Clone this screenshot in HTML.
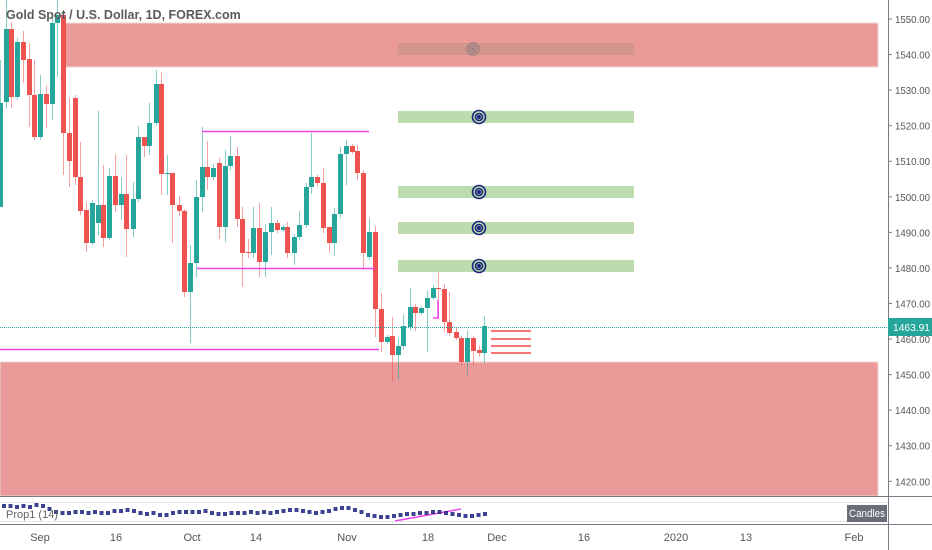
<!DOCTYPE html>
<html><head><meta charset="utf-8"><style>
html,body{margin:0;padding:0;background:#fff;overflow:hidden}
svg{display:block;font-family:"Liberation Sans",sans-serif}
</style></head><body>
<svg id="s" width="932" height="550" viewBox="0 0 932 550" xmlns="http://www.w3.org/2000/svg">
<rect x="0" y="0" width="932" height="550" fill="#fff"/>
<rect x="65" y="23" width="813" height="44" fill="#eb9a9a" stroke="#f3d6d6"/>
<rect x="0" y="362" width="878" height="134" fill="#eb9a9a" stroke="#f3d6d6"/>
<rect x="398" y="43" width="236" height="12" fill="#d4968a"/>
<rect x="398" y="111" width="236" height="12" fill="#bcdcae"/>
<rect x="398" y="186" width="236" height="12" fill="#bcdcae"/>
<rect x="398" y="222" width="236" height="12" fill="#bcdcae"/>
<rect x="398" y="260" width="236" height="12" fill="#bcdcae"/>
<g id="c"></g>
<g stroke="#ee44ee" stroke-width="1.5">
<line x1="202" y1="131.5" x2="369" y2="131.5"/>
<line x1="197" y1="268.5" x2="375" y2="268.5"/>
<line x1="0" y1="349.5" x2="379" y2="349.5"/>
<polyline fill="none" points="433,318 438,318 438,300"/>
<line x1="395" y1="521" x2="461" y2="509"/>
</g>
<g stroke="#f04848" stroke-width="1.5">
<line x1="491" y1="331" x2="531" y2="331"/><line x1="491" y1="339" x2="531" y2="339"/>
<line x1="491" y1="346" x2="531" y2="346"/><line x1="491" y1="353" x2="531" y2="353"/>
</g>
<g fill="none" stroke="#1a237e" stroke-width="1.6">
<circle cx="479" cy="117" r="6.5"/><circle cx="479" cy="117" r="3.5"/><circle cx="479" cy="117" r="1.2" fill="#1a237e"/>
<circle cx="479" cy="192" r="6.5"/><circle cx="479" cy="192" r="3.5"/><circle cx="479" cy="192" r="1.2" fill="#1a237e"/>
<circle cx="479" cy="228" r="6.5"/><circle cx="479" cy="228" r="3.5"/><circle cx="479" cy="228" r="1.2" fill="#1a237e"/>
<circle cx="479" cy="266" r="6.5"/><circle cx="479" cy="266" r="3.5"/><circle cx="479" cy="266" r="1.2" fill="#1a237e"/>
</g>
<g fill="none" stroke="#8a7a80" stroke-width="1.2">
<circle cx="473" cy="49" r="6"/><circle cx="473" cy="49" r="3.5"/><circle cx="473" cy="49" r="1"/>
</g>
<line x1="0" y1="327.5" x2="888" y2="327.5" stroke="#26a69a" stroke-dasharray="1,1"/>
<line x1="0" y1="496.5" x2="932" y2="496.5" stroke="#787b86"/>
<line x1="0" y1="524.5" x2="932" y2="524.5" stroke="#787b86"/>
<line x1="0" y1="502.5" x2="888" y2="502.5" stroke="#ccc" stroke-dasharray="1,1"/>
<line x1="0" y1="521.5" x2="888" y2="521.5" stroke="#ccc" stroke-dasharray="1,1"/>
<line x1="888.5" y1="0" x2="888.5" y2="550" stroke="#787b86"/>
<g id="ind"></g>
<g id="ax" font-size="10.5" fill="#555"></g>
<rect x="888" y="318" width="44" height="18" fill="#26a69a"/>
<text x="893" y="331" font-size="10.5" fill="#fff" textLength="37" lengthAdjust="spacingAndGlyphs">1463.91</text>
<rect x="847" y="505" width="40" height="17" fill="#6b6e78"/>
<text x="867" y="517" font-size="11" fill="#fff" text-anchor="middle" textLength="36" lengthAdjust="spacingAndGlyphs">Candles</text>
<text x="6" y="518" font-size="11" fill="#666">Prop1 (14)</text>
<text x="6" y="19" font-size="12.5" fill="#5a5a5a" style="font-weight:600">Gold Spot / U.S. Dollar, 1D, FOREX.com</text>
<g font-size="11" fill="#555" text-anchor="middle">
<text x="40" y="541">Sep</text><text x="116" y="541">16</text><text x="192" y="541">Oct</text>
<text x="256" y="541">14</text><text x="347" y="541">Nov</text><text x="428" y="541">18</text>
<text x="497" y="541">Dec</text><text x="584" y="541">16</text><text x="676" y="541">2020</text>
<text x="746" y="541">13</text><text x="854" y="541">Feb</text>
</g>
</svg>
<script>
var G="#26a69a",R="#ef5350",ns="http://www.w3.org/2000/svg";
var d=[[0,103,207,60,207,G],[6,29,102,0,108,G],[11,29,97,22,108,R],[17,42,97,38,100,G],[23,42,60,31,83,R],[29,59,95,43,127,R],[34,95,137,60,140,R],[40,94,137,75,140,G],[46,94,104,86,128,R],[52,23,104,15,120,G],[57,15,23,0,77,G],[63,15,133,10,175,R],[69,133,161,98,187,R],[75,98,177,95,185,R],[80,177,211,142,215,R],[86,210,243,202,252,R],[92,203,243,200,245,G],[98,205,223,111,235,G],[103,205,238,165,247,R],[109,176,238,168,240,G],[115,176,205,154,212,R],[121,194,205,177,220,G],[126,194,229,155,257,R],[133,199,229,182,237,G],[138,137,199,126,202,G],[144,137,146,137,157,R],[149,123,146,103,155,G],[156,84,123,70,126,G],[161,84,174,72,195,R],[167,173,174,155,195,G],[172,173,205,173,243,R],[179,205,211,196,216,R],[184,211,292,209,297,R],[190,263,292,245,343,G],[196,197,263,180,278,G],[202,167,197,127,212,G],[207,167,177,141,190,R],[213,168,177,164,180,G],[219,163,227,158,239,R],[225,166,227,150,242,G],[230,156,166,136,170,G],[237,156,219,147,227,R],[242,219,253,207,287,R],[248,252,253,239,258,R],[253,228,253,207,258,G],[259,228,262,203,277,R],[265,232,262,224,277,G],[271,223,232,207,255,G],[277,223,230,220,233,R],[283,227,230,225,232,G],[287,227,253,222,258,R],[294,237,253,234,265,G],[299,225,237,211,240,G],[306,187,225,183,228,G],[311,177,187,133,194,G],[317,177,183,175,186,R],[323,183,228,168,233,R],[329,227,243,227,253,R],[334,214,243,208,256,G],[340,154,214,147,218,G],[346,146,154,140,185,G],[352,146,152,144,154,R],[357,151,173,145,180,R],[363,173,253,170,270,R],[369,232,257,218,260,G],[375,232,309,226,337,R],[381,309,342,293,352,R],[387,337,342,335,344,G],[392,336,355,317,382,R],[398,346,355,338,380,G],[403,326,346,314,350,G],[410,307,327,288,330,G],[415,307,313,304,331,R],[421,308,313,306,315,G],[427,298,308,290,352,G],[433,288,298,285,300,G],[438,288,289,272,319,R],[444,289,322,284,332,R],[449,322,333,292,336,R],[456,332,338,328,340,R],[461,338,362,336,366,R],[467,338,362,330,375,G],[473,338,351,336,366,R],[479,350,353,346,357,R],[484,326,353,316,363,G]];
var c=document.getElementById("c");
function el(t,a,p){var e=document.createElementNS(ns,t);for(var k in a)e.setAttribute(k,a[k]);p.appendChild(e);return e;}
d.forEach(function(q){
 el("line",{x1:q[0]+.5,x2:q[0]+.5,y1:q[3],y2:q[4],stroke:q[5],"stroke-opacity":.55},c);
 el("rect",{x:q[0]-2,y:q[1],width:5,height:Math.max(1,q[2]-q[1]),fill:q[5]},c);
});
var ax=document.getElementById("ax");
for(var p=1550;p>=1420;p-=10){var y=19+(1550-p)*3.556;
 el("line",{x1:888,x2:892,y1:y,y2:y,stroke:"#787b86"},ax);
 var t=el("text",{x:895,y:y+4,textLength:35,lengthAdjust:"spacingAndGlyphs"},ax);t.textContent=p+".00";}
var ind=document.getElementById("ind");
var iy=[506,506,507,506,507,505,506,509,512,513,513,512,512,513,512,513,513,511,511,510,511,513,514,513,515,515,513,512,512,512,512,511,513,514,514,513,513,513,512,513,512,513,512,511,510,510,511,512,513,512,511,509,508,508,510,512,515,516,517,517,516,515,514,514,513,513,512,512,513,514,515,516,516,515,514];
for(var i=0;i<iy.length;i++){var x=i*6.5+2;el("rect",{x:x,y:iy[i]-2,width:4,height:4,fill:"#1a237e","fill-opacity":.85},ind);}
</script>
</body></html>
